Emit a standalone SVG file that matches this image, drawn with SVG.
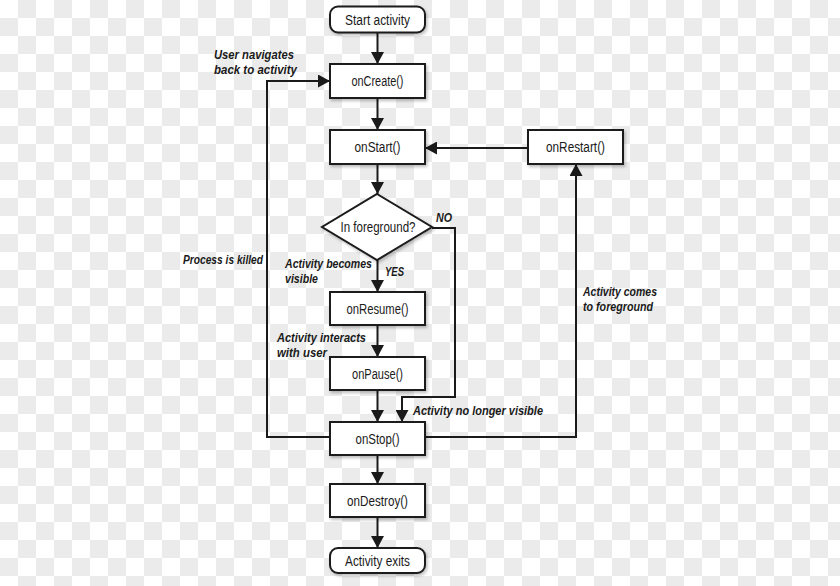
<svg xmlns="http://www.w3.org/2000/svg" width="840" height="586" viewBox="0 0 840 586">
<defs>
<pattern id="chk" width="36" height="36" patternUnits="userSpaceOnUse">
<rect width="36" height="36" fill="#ffffff"/>
<rect x="18" y="0" width="18" height="18" fill="#ebebeb"/>
<rect x="0" y="18" width="18" height="18" fill="#ebebeb"/>
</pattern>
<marker id="arr" markerUnits="userSpaceOnUse" markerWidth="13" markerHeight="13" refX="12" refY="6.5" orient="auto">
<path d="M0,0 L12,6.5 L0,13 z" fill="#1a1a1a"/>
</marker>
<filter id="sh" x="-10%" y="-10%" width="130%" height="140%">
<feDropShadow dx="1.5" dy="2" stdDeviation="1.5" flood-color="#000" flood-opacity="0.25"/>
</filter>
</defs>
<style>
.box{fill:#fff;stroke:#1a1a1a;stroke-width:2;filter:url(#sh)}
.t{font-family:"Liberation Sans",Arial,sans-serif;font-size:14px;fill:#1a1a1a;text-anchor:middle}
.l{font-family:"Liberation Sans",Arial,sans-serif;font-size:13.5px;font-style:italic;font-weight:bold;fill:#1a1a1a}
.ca{fill:none;stroke:#1a1a1a;stroke-width:2;marker-end:url(#arr)}
</style>
<rect width="840" height="586" fill="url(#chk)"/>

<g id="connectors">
<line class="ca" x1="377.5" y1="32" x2="377.5" y2="64"/>
<line class="ca" x1="377.5" y1="98" x2="377.5" y2="130"/>
<line class="ca" x1="377.5" y1="164" x2="377.5" y2="194"/>
<line class="ca" x1="377.5" y1="260" x2="377.5" y2="292"/>
<line class="ca" x1="377.5" y1="325" x2="377.5" y2="357"/>
<line class="ca" x1="377.5" y1="390" x2="377.5" y2="422"/>
<line class="ca" x1="377.5" y1="455" x2="377.5" y2="484"/>
<line class="ca" x1="377.5" y1="517" x2="377.5" y2="548"/>
<polyline class="ca" points="432,228 455,228 455,397 402,397 402,422"/>
<polyline class="ca" points="330,437 267,437 267,81 330,81"/>
<polyline class="ca" points="425,437 576,437 576,164"/>
<line class="ca" x1="528" y1="148" x2="425" y2="148"/>
</g>

<g id="start"><rect class="box" x="330" y="6.5" width="95" height="26" rx="8"/><text class="t" x="377.5" y="24.5" textLength="65" lengthAdjust="spacingAndGlyphs">Start activity</text></g>
<g id="onCreate"><rect class="box" x="330" y="64" width="95" height="34"/><text class="t" x="377.5" y="86" textLength="52" lengthAdjust="spacingAndGlyphs">onCreate()</text></g>
<g id="onStart"><rect class="box" x="330" y="130" width="95" height="34"/><text class="t" x="377.5" y="152" textLength="46" lengthAdjust="spacingAndGlyphs">onStart()</text></g>
<g id="onRestart"><rect class="box" x="528" y="130" width="95" height="34"/><text class="t" x="575.5" y="152" textLength="59" lengthAdjust="spacingAndGlyphs">onRestart()</text></g>
<g id="foreground"><polygon class="box" points="377,194 432,227 377,260 322,227"/><text class="t" x="378" y="232" textLength="75" lengthAdjust="spacingAndGlyphs">In foreground?</text></g>
<g id="onResume"><rect class="box" x="330" y="292" width="95" height="33"/><text class="t" x="377.5" y="313.5" textLength="62" lengthAdjust="spacingAndGlyphs">onResume()</text></g>
<g id="onPause"><rect class="box" x="330" y="357" width="95" height="33"/><text class="t" x="377.5" y="378.5" textLength="51" lengthAdjust="spacingAndGlyphs">onPause()</text></g>
<g id="onStop"><rect class="box" x="330" y="422" width="95" height="33"/><text class="t" x="377.5" y="443.5" textLength="44" lengthAdjust="spacingAndGlyphs">onStop()</text></g>
<g id="onDestroy"><rect class="box" x="330" y="484" width="95" height="33"/><text class="t" x="377.5" y="505.5" textLength="61" lengthAdjust="spacingAndGlyphs">onDestroy()</text></g>
<g id="exits"><rect class="box" x="330" y="548" width="95" height="25" rx="8"/><text class="t" x="377.5" y="565.5" textLength="65" lengthAdjust="spacingAndGlyphs">Activity exits</text></g>

<g id="labels">
<text class="l" x="214" y="59" textLength="80" lengthAdjust="spacingAndGlyphs">User navigates</text>
<text class="l" x="214" y="74" textLength="83" lengthAdjust="spacingAndGlyphs">back to activity</text>
<text class="l" x="436" y="222" textLength="16" lengthAdjust="spacingAndGlyphs">NO</text>
<text class="l" x="183" y="264" textLength="80" lengthAdjust="spacingAndGlyphs">Process is killed</text>
<text class="l" x="285" y="268" textLength="87" lengthAdjust="spacingAndGlyphs">Activity becomes</text>
<text class="l" x="285" y="283" textLength="33" lengthAdjust="spacingAndGlyphs">visible</text>
<text class="l" x="385" y="276" textLength="19" lengthAdjust="spacingAndGlyphs">YES</text>
<text class="l" x="277" y="342" textLength="89" lengthAdjust="spacingAndGlyphs">Activity interacts</text>
<text class="l" x="277" y="357" textLength="50" lengthAdjust="spacingAndGlyphs">with user</text>
<text class="l" x="413" y="415" textLength="130" lengthAdjust="spacingAndGlyphs">Activity no longer visible</text>
<text class="l" x="583" y="296" textLength="74" lengthAdjust="spacingAndGlyphs">Activity comes</text>
<text class="l" x="583" y="311" textLength="70" lengthAdjust="spacingAndGlyphs">to foreground</text>
</g>
</svg>
